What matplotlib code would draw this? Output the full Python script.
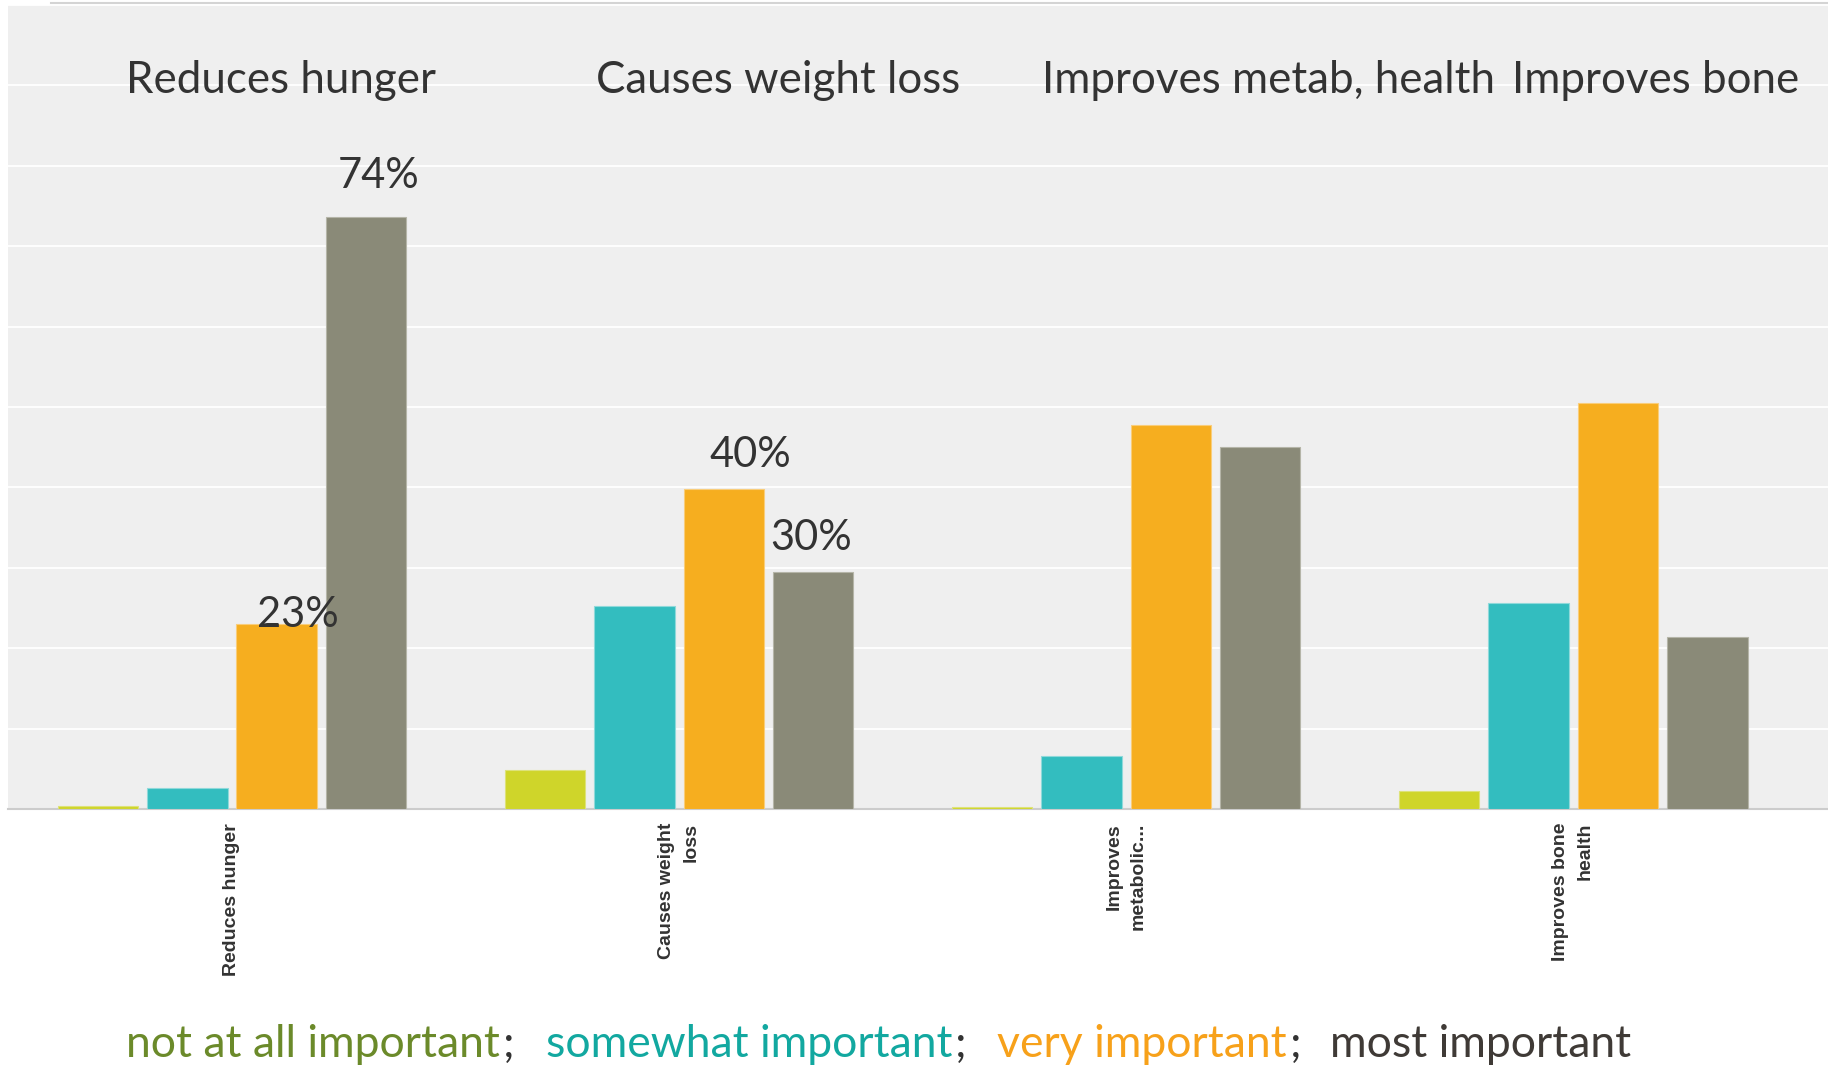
import matplotlib.pyplot as plt
import numpy as np

# categories and series (percent of respondents)
categories = ["Reduces hunger", "Causes weight\nloss", "Improves\nmetabolic...", "Improves bone\nhealth"]
series_names = ["not at all important", "somewhat important", "very important", "most important"]
not_at_all = [0.4, 4.9, 0.25, 2.2]
somewhat = [2.6, 25.2, 6.6, 25.6]
very = [23.0, 39.8, 47.7, 50.5]
most = [73.6, 29.5, 45.0, 21.4]
series = [not_at_all, somewhat, very, most]

panel_titles = ["Reduces hunger", "Causes weight loss", "Improves metab, health", "Improves bone"]

bar_colors = ["#cfd52a", "#33bdbf", "#f6ae1f", "#8a8a78"]
edge_colors = ["#dde27a", "#8fd9da", "#f9cd7a", "#b5b5a8"]
legend_colors = ["#6b8a2a", "#12a8a0", "#f7a11a", "#3f3a36"]
dark = "#333333"

# (series index, category index, x nudge, y nudge) for the percent callouts
callouts = [(3, 0, 0.027, 3.7), (2, 0, 0.048, -0.4), (2, 1, 0.059, 2.7), (3, 1, -0.004, 2.7)]

W, H = 1828, 1068
fig = plt.figure(figsize=(W / 100, H / 100), dpi=100)
fig.patch.set_facecolor("white")

ax = fig.add_axes([8 / W, 1 - 809 / H, 1 - 8 / W, 804 / H])
ax.set_facecolor("#efefef")

x = np.arange(len(categories))
step, width = 0.2, 0.18
for i, vals in enumerate(series):
    ax.bar(x + (i - 1.5) * step, vals, width=width, color=bar_colors[i],
           edgecolor=edge_colors[i], linewidth=0.8, zorder=3)

ax.set_xlim(-0.501, 3.57)
ax.set_ylim(0, 100)
ax.set_yticks(np.arange(0, 101, 10))
ax.tick_params(axis="y", length=0, labelleft=False)
ax.grid(axis="y", color="white", linewidth=1.3, zorder=0)
ax.set_axisbelow(True)
for side in ["top", "left", "right"]:
    ax.spines[side].set_visible(False)
ax.spines["bottom"].set_color("#cccccc")
ax.spines["bottom"].set_linewidth(1.5)

ax.set_xticks(x)
ax.set_xticklabels(categories, rotation=90, fontfamily="Liberation Sans",
                   fontweight="bold", fontsize=14, color=dark, linespacing=1.58,
                   multialignment="right", va="top", ha="center")
ax.tick_params(axis="x", length=0, pad=10)

for si, ci, dx, dy in callouts:
    v = series[si][ci]
    ax.text(x[ci] + (si - 1.5) * step + dx, v + dy, f"{v:.0f}%", ha="center",
            va="baseline", fontsize=30, family="Lato", color=dark, zorder=4)

# text boxes along the top
title_x = [126, 596, 1042, 1512]
for tx, t in zip(title_x, panel_titles):
    fig.text(tx / W, 1 - 93 / H, t, fontsize=31.6, family="Lato", color=dark,
             va="baseline", ha="left")

# thin grey rule at the very top
fig.add_artist(plt.Line2D([51 / W, 1], [1 - 3 / H, 1 - 3 / H], color="#d4d4d4", lw=1.5))

# coloured legend line at the bottom
legend_x = [126, 546, 997, 1330]
fig.canvas.draw()
renderer = fig.canvas.get_renderer()
for k, (lx, name) in enumerate(zip(legend_x, series_names)):
    t = fig.text(lx / W, 1 - 1057 / H, name, fontsize=32, family="Lato",
                 color=legend_colors[k], va="baseline", ha="left")
    if k < len(series_names) - 1:
        bb = t.get_window_extent(renderer)
        fig.text((bb.x1 + 3) / W, 1 - 1057 / H, ";", fontsize=32, family="Lato",
                 color=dark, va="baseline", ha="left")

fig.savefig("out.png", dpi=100, facecolor="white")
